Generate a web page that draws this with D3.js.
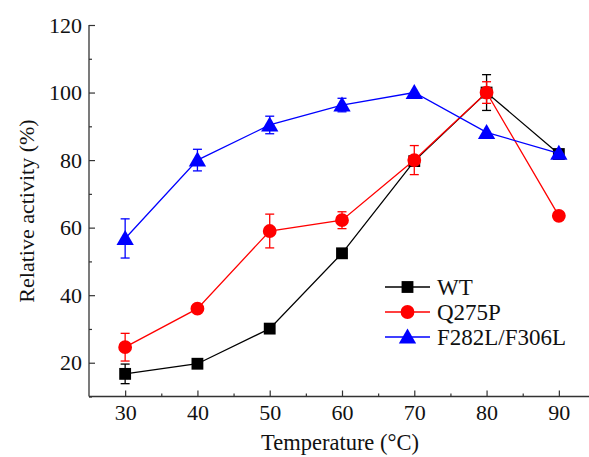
<!DOCTYPE html>
<html><head><meta charset="utf-8">
<script src="https://cdn.jsdelivr.net/npm/d3@7"></script>
<style>body{margin:0;background:#fff}svg{display:block}</style>
</head><body><svg id="c" width="589" height="457"></svg>
<script>
const temps = [30, 40, 50, 60, 70, 80, 90];
const wt = [16.7, 19.7, 30.1, 52.4, 79.7, 100, 81.8];
const wtErr = [2.9, 0, 0, 0, 0, 5.3, 0];
const q275p = [24.6, 36.0, 59.0, 62.2, 80.0, 100, 63.5];
const q275pErr = [4.1, 0, 5.0, 2.5, 4.3, 3.2, 0];
const f282l = [56.8, 80.0, 90.4, 96.3, 100, 88.2, 82];
const f282lErr = [5.8, 3.2, 2.6, 2.0, 0, 0, 0];
const seriesNames = ["WT", "Q275P", "F282L/F306L"];
const seriesColors = ["#000000", "#ff0000", "#0000ff"];
const seriesShapes = ["square", "circle", "triangle"];
const xTicks = [30, 40, 50, 60, 70, 80, 90];
const yTicks = [20, 40, 60, 80, 100, 120];

const FONT = "Liberation Serif";
const svg = d3.select("#c");
const x = d3.scaleLinear().domain([25, 95]).range([89, 595]);
const y = d3.scaleLinear().domain([10, 120]).range([396.5, 25]);

const g = svg.append("g");
const xAxis = d3.axisBottom(x).tickValues(xTicks).tickSize(-6).tickPadding(8).tickFormat(d3.format("d"));
const xMinor = d3.axisBottom(x).tickValues(d3.range(35, 95, 10)).tickSize(-3).tickFormat("");
const yAxis = d3.axisLeft(y).tickValues(yTicks).tickSize(-6).tickPadding(7).tickFormat(d3.format("d"));
const yMinor = d3.axisLeft(y).tickValues(d3.range(10, 120, 20)).tickSize(-3).tickFormat("");

function style(sel){
  sel.attr("font-family", FONT).attr("font-size", 22);
  sel.select(".domain").attr("stroke","#333").attr("stroke-width",1.3);
  sel.selectAll(".tick line").attr("stroke","#333").attr("stroke-width",1.2);
  sel.selectAll("text").attr("font-family", FONT).attr("font-size",22).attr("fill","#111");
}
g.append("g").attr("transform",`translate(0,${y(10)})`).call(xAxis).call(style).call(s=>s.select(".domain").attr("d",`M${x(25)},0H${x(95)}`));
g.append("g").attr("transform",`translate(0,${y(10)})`).call(xMinor).call(style).call(s=>s.select(".domain").remove());
g.append("g").attr("transform",`translate(${x(25)},0)`).call(yAxis).call(style).call(s=>s.select(".domain").attr("d",`M0,${y(120)}V${y(10)}`));
g.append("g").attr("transform",`translate(${x(25)},0)`).call(yMinor).call(style).call(s=>s.select(".domain").remove());

svg.append("text").attr("x", 340).attr("y", 450).attr("text-anchor","middle").attr("font-family",FONT).attr("font-size",22.5).attr("fill","#111").text("Temperature (°C)");
svg.append("text").attr("transform","translate(34,211) rotate(-90)").attr("text-anchor","middle").attr("font-family",FONT).attr("font-size",22).attr("fill","#111").text("Relative activity (%)");

const data = [[wt, wtErr],[q275p, q275pErr],[f282l, f282lErr]];
const sym = {square: d3.symbolSquare, circle: d3.symbolCircle, triangle: d3.symbolTriangle};
const symSize = {square: 140, circle: 150, triangle: 130};

data.forEach(([vals, errs], i) => {
  const col = seriesColors[i];
  const pts = temps.map((t, j) => ({t, v: vals[j], e: errs[j]}));
  const line = d3.line().x(d => x(d.t)).y(d => y(d.v));
  g.append("path").attr("d", line(pts)).attr("fill","none").attr("stroke",col).attr("stroke-width",1.3);
  const eb = g.append("g").attr("stroke",col).attr("stroke-width",1.3);
  pts.filter(d => d.e > 0).forEach(d => {
    eb.append("line").attr("x1",x(d.t)).attr("x2",x(d.t)).attr("y1",y(d.v-d.e)).attr("y2",y(d.v+d.e));
    [d.v-d.e, d.v+d.e].forEach(v => eb.append("line").attr("x1",x(d.t)-4.5).attr("x2",x(d.t)+4.5).attr("y1",y(v)).attr("y2",y(v)));
  });
  const shp = seriesShapes[i];
  g.selectAll(null).data(pts).join("path")
    .attr("transform", d => `translate(${x(d.t)},${y(d.v) + (shp==="triangle"?1.5:0)})`)
    .attr("d", d3.symbol(sym[shp], symSize[shp]))
    .attr("fill", col);
});

const lg = svg.append("g");
seriesNames.forEach((n, i) => {
  const yy = 287 + i * 25;
  lg.append("line").attr("x1",385).attr("x2",430).attr("y1",yy).attr("y2",yy).attr("stroke",seriesColors[i]).attr("stroke-width",1.3);
  lg.append("path").attr("transform",`translate(407.5,${yy + (seriesShapes[i]==="triangle"?1.5:0)})`).attr("d", d3.symbol(sym[seriesShapes[i]], symSize[seriesShapes[i]])).attr("fill", seriesColors[i]);
  lg.append("text").attr("x",437).attr("y",yy+7.5).attr("font-family",FONT).attr("font-size",23).attr("fill","#111").text(n);
});
</script></body></html>
